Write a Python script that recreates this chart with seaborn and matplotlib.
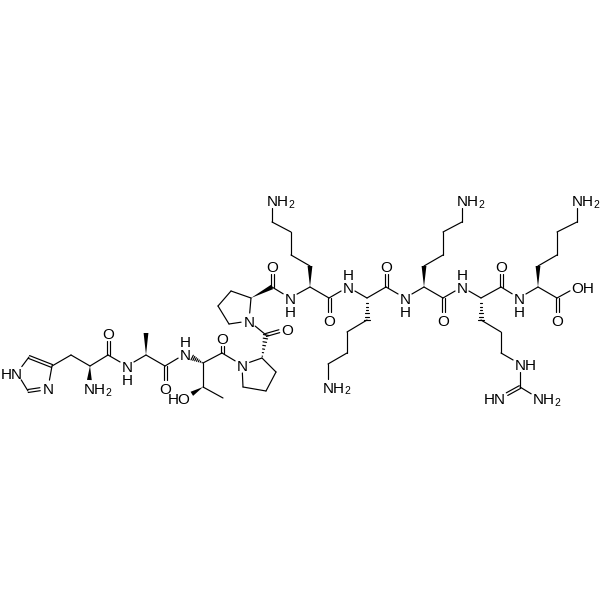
import numpy as np
import pandas as pd
import matplotlib.pyplot as plt
import seaborn as sns

# Atom positions (pixels, y pointing down)
atoms = {
    # His
    "n1": (17, 373), "c5": (29, 357), "c4": (52, 366), "n3": (48, 388), "c2": (28, 391),
    "hb": (71, 355), "ha": (90, 366), "hn": (89, 388), "hc": (108, 355), "ho": (108, 333),
    # Ala
    "an": (127, 366), "aa": (146, 355), "ab": (146, 333), "ac": (165, 366), "ao": (165, 388),
    # Thr
    "tn": (185, 354), "ta": (203, 363), "tb": (203, 387), "tg": (223, 398), "toh": (185, 398),
    "tc": (222, 353), "to": (222, 338),
    # Pro 1
    "pn": (242, 365), "pa": (262, 358), "pb": (276, 372), "pg": (266, 391), "pd": (243, 387),
    "pc": (266, 335), "po": (287, 329),
    # Pro 2
    "qn": (249, 321), "qa": (251, 298), "qb": (231, 291), "qg": (218, 306), "qd": (229, 324),
    "qc": (272, 287), "qo": (272, 266),
    # Lys 1
    "kn": (290, 298), "ka": (310, 287), "kb": (310, 266), "kg": (291, 255), "kd": (291, 232),
    "ke": (272, 222), "kz": (272, 200), "kc": (329, 298), "ko": (329, 320),
    # Lys 2
    "ln": (348, 287), "la": (367, 298), "lb": (367, 320), "lg": (347, 332), "ld": (347, 353),
    "le": (328, 364), "lz": (328, 387), "lc": (386, 287), "lo": (386, 266),
    # Lys 3
    "mn": (405, 298), "ma": (424, 287), "mb": (424, 266), "mg": (443, 255), "md": (443, 232),
    "me": (462, 222), "mz": (462, 200), "mc": (443, 298), "mo": (443, 320),
    # Arg
    "rn": (462, 287), "ra": (481, 298), "rb": (481, 320), "rg": (501, 332), "rd": (501, 353),
    "re": (520, 364), "rz": (520, 387), "rh": (500, 398), "rh2": (538, 398),
    "rc": (501, 287), "ro": (501, 266),
    # Lys 4
    "sn": (519, 298), "sa": (538, 287), "sb": (538, 266), "sg": (557, 255), "sd": (557, 232),
    "se": (577, 222), "sz": (577, 200), "sc": (557, 298), "so": (557, 320), "soh": (577, 287),
}

single_bonds = [
    ("n1", "c5"), ("c4", "n3"), ("c2", "n1"), ("c4", "hb"), ("hb", "ha"), ("ha", "hc"), ("hc", "an"),
    ("an", "aa"), ("aa", "ac"), ("ac", "tn"), ("ta", "tb"), ("tb", "tg"), ("ta", "tc"), ("tc", "pn"),
    ("pn", "pa"), ("pa", "pb"), ("pb", "pg"), ("pg", "pd"), ("pd", "pn"), ("pc", "qn"), ("qn", "qa"),
    ("qa", "qb"), ("qb", "qg"), ("qg", "qd"), ("qd", "qn"), ("qc", "kn"), ("kn", "ka"), ("ka", "kc"),
    ("kb", "kg"), ("kg", "kd"), ("kd", "ke"), ("ke", "kz"), ("kc", "ln"), ("ln", "la"), ("la", "lc"),
    ("lb", "lg"), ("lg", "ld"), ("ld", "le"), ("le", "lz"), ("lc", "mn"), ("mn", "ma"), ("ma", "mc"),
    ("mb", "mg"), ("mg", "md"), ("md", "me"), ("me", "mz"), ("mc", "rn"), ("rn", "ra"), ("ra", "rc"),
    ("rb", "rg"), ("rg", "rd"), ("rd", "re"), ("re", "rz"), ("rz", "rh2"), ("rc", "sn"), ("sn", "sa"),
    ("sa", "sc"), ("sb", "sg"), ("sg", "sd"), ("sd", "se"), ("se", "sz"), ("sc", "soh"),
]
double_bonds = [
    ("c5", "c4"), ("n3", "c2"), ("hc", "ho"), ("ac", "ao"), ("tc", "to"), ("pc", "po"), ("qc", "qo"),
    ("kc", "ko"), ("lc", "lo"), ("mc", "mo"), ("rz", "rh"), ("rc", "ro"), ("sc", "so"),
]
wedge_bonds = [
    ("ha", "hn"), ("aa", "ab"), ("tb", "toh"), ("qa", "qc"), ("ka", "kb"), ("ma", "mb"), ("sa", "sb"),
]
hash_bonds = [("ta", "tn"), ("pa", "pc"), ("la", "lb"), ("ra", "rb")]

# atom, text, alignment of the first/last letter on the atom
labels = [
    ("n1", "HN", "right"), ("n3", "N", "center"), ("ho", "O", "center"),
    ("an", "N", "center"), ("ao", "O", "center"), ("tn", "N", "center"), ("toh", "HO", "right"),
    ("to", "O", "center"), ("pn", "N", "center"), ("po", "O", "center"), ("qn", "N", "center"),
    ("qo", "O", "center"), ("kn", "N", "center"), ("ko", "O", "center"),
    ("ln", "N", "center"), ("lo", "O", "center"), ("mn", "N", "center"),
    ("mo", "O", "center"), ("rn", "N", "center"), ("re", "NH", "left"),
    ("rh", "HN", "right"), ("ro", "O", "center"), ("sn", "N", "center"),
    ("so", "O", "center"), ("soh", "OH", "left"),
]
amines = ["hn", "kz", "lz", "mz", "rh2", "sz"]
# amide hydrogens: atom, side (+ below, - above)
amide_h = [("an", 1), ("tn", -1), ("kn", 1), ("ln", -1), ("mn", 1), ("rn", -1), ("sn", 1)]

labelled = {a for a, _, _ in labels} | set(amines)
gap = 8


def ends(a, b, offset=0.0):
    p, q = np.array(atoms[a], float), np.array(atoms[b], float)
    d = (q - p) / np.linalg.norm(q - p)
    n = np.array([-d[1], d[0]])
    if a in labelled:
        p = p + d * gap
    if b in labelled:
        q = q - d * gap
    return p + n * offset, q + n * offset


rows = []
uid = 0
for a, b in single_bonds:
    p, q = ends(a, b)
    rows += [(uid, p[0], p[1]), (uid, q[0], q[1])]
    uid += 1
for a, b in double_bonds:
    for off in (-1.5, 1.5):
        p, q = ends(a, b, off)
        rows += [(uid, p[0], p[1]), (uid, q[0], q[1])]
        uid += 1
for a, b in hash_bonds:
    p, q = ends(a, b)
    d = q - p
    n = np.array([-d[1], d[0]]) / np.linalg.norm(d)
    for t in np.linspace(0.08, 1, 7):
        c = p + d * t
        w = 2.6 * t
        rows += [(uid, c[0] - n[0] * w, c[1] - n[1] * w), (uid, c[0] + n[0] * w, c[1] + n[1] * w)]
        uid += 1
bonds = pd.DataFrame(rows, columns=["bond", "x", "y"])

sns.set_theme(style="white")
plt.rcParams["font.family"] = ["Liberation Sans", "DejaVu Sans"]

fig = plt.figure(figsize=(6, 6), dpi=100)
ax = fig.add_axes([0, 0, 1, 1])
sns.lineplot(data=bonds, x="x", y="y", units="bond", estimator=None, sort=False,
             color="black", linewidth=0.85, legend=False, ax=ax)

for a, b in wedge_bonds:
    p, q = ends(a, b)
    d = q - p
    n = np.array([-d[1], d[0]]) / np.linalg.norm(d)
    ax.fill([p[0], q[0] + n[0] * 2.4, q[0] - n[0] * 2.4], [p[1], q[1] + n[1] * 2.4, q[1] - n[1] * 2.4],
            color="black", lw=0)

fs = 11
half = 5.5
for atom, text, align in labels:
    x, y = atoms[atom]
    if align == "left":
        x -= half
    elif align == "right":
        x += half
    ax.text(x, y + 0.5, text, ha=align, va="center_baseline", fontsize=fs, color="black")
for atom in amines:
    # subscript 2 drawn as its own small text after NH
    x, y = atoms[atom]
    ax.text(x - half, y + 0.5, "NH", ha="left", va="center_baseline", fontsize=fs, color="black")
    ax.text(x - half + 21.5, y + 3.5, "2", ha="left", va="center_baseline", fontsize=7.5, color="black")
for atom, side in amide_h:
    x, y = atoms[atom]
    ax.text(x, y + 0.5 + side * 13, "H", ha="center", va="center_baseline", fontsize=fs, color="black")

ax.set_xlim(0, 600)
ax.set_ylim(600, 0)
ax.axis("off")
fig.savefig("out.png", dpi=100, facecolor="white")
